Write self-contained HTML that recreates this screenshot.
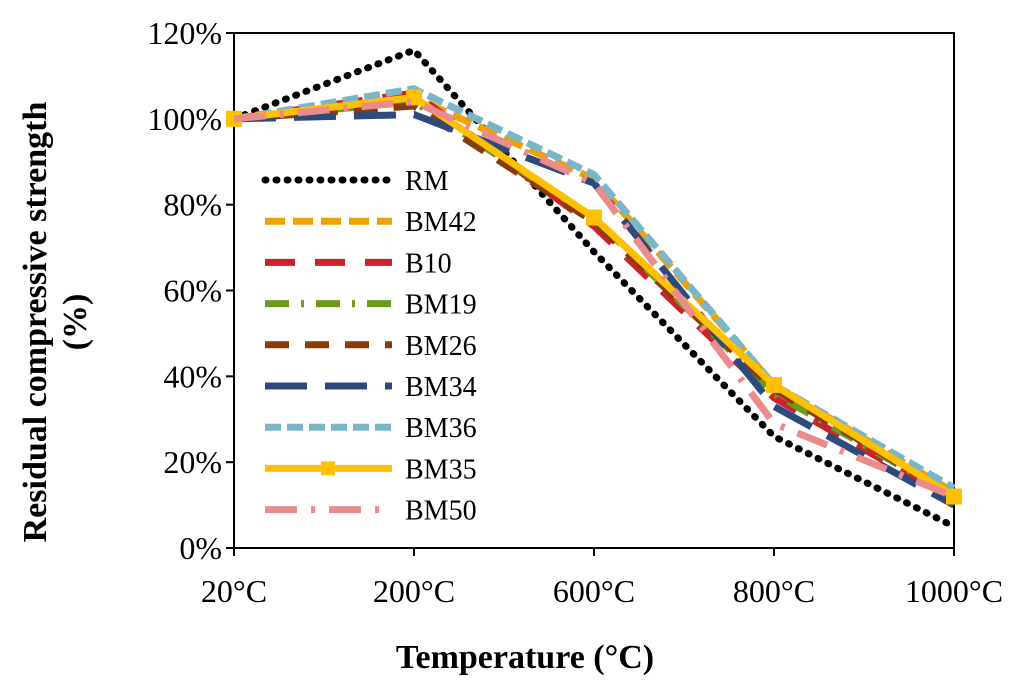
<!DOCTYPE html>
<html><head><meta charset="utf-8"><style>
html,body{margin:0;padding:0;background:#fff;}
svg{display:block;font-family:"Liberation Serif",serif;}
</style></head><body>
<svg id="chart" width="1024" height="686" viewBox="0 0 1024 686">
<rect x="234" y="33" width="720" height="515" fill="#fff" stroke="#000" stroke-width="2"/>
<g id="yticks"></g>
<g id="xticks"></g>
<g id="series"></g>
<g id="legend"></g>
<text x="46" y="322" transform="rotate(-90 46 322)" text-anchor="middle" font-size="34" font-weight="bold">Residual compressive strength</text>
<text x="86" y="322" transform="rotate(-90 86 322)" text-anchor="middle" font-size="34" font-weight="bold">(%)</text>
<text x="525" y="668" text-anchor="middle" font-size="34" font-weight="bold">Temperature (°C)</text>
</svg>
<script>
const categories = ["20°C","200°C","600°C","800°C","1000°C"];
const yTicks = [0,20,40,60,80,100,120];
const seriesNames = ["RM","BM42","B10","BM19","BM26","BM34","BM36","BM35","BM50"];
const RM   = [100,116,69,26,5];
const BM42 = [100,105,86,38,13];
const B10  = [100,106,75,35,11];
const BM19 = [100,104,77,36,12];
const BM26 = [100,103,76,37,12];
const BM34 = [100,101,85,33,10];
const BM36 = [100,107,87,38,14];
const BM35 = [100,105,77,38,12];
const BM50 = [100,104,85,29,12];

const seriesData = [RM,BM42,B10,BM19,BM26,BM34,BM36,BM35,BM50];
const colors = ["#000","#f0a000","#cc2229","#6b9a1e","#8a3b0c","#2e4a7d","#7ab6c8","#ffc000","#ea8c8c"];
const dashes = ["1,10","20,8","30,20","24,12,3,12","24,16","42,18","16,6","none","32,14,4,14"];
const X0=234, X1=954, Y0=548, Y1=33;
const x = i => X0 + i*(X1-X0)/(categories.length-1);
const y = v => Y0 - v*(Y0-Y1)/120;
const NS="http://www.w3.org/2000/svg";
function mk(tag, attrs, parent){const e=document.createElementNS(NS,tag);for(const k in attrs)e.setAttribute(k,attrs[k]);parent.appendChild(e);return e;}

const yg=document.getElementById('yticks');
yTicks.forEach(v=>{
  const l=mk('line',{x1:226,x2:234,y1:y(v),y2:y(v),stroke:'#000','stroke-width':2},yg);
  
  
  const t=mk('text',{x:222,y:y(v)+11,'text-anchor':'end','font-size':32},yg);
  t.textContent=v+'%';
  
  
});
const xg=document.getElementById('xticks');
categories.forEach((c,i)=>{
  const l=mk('line',{x1:x(i),x2:x(i),y1:548,y2:556,stroke:'#000','stroke-width':2},xg);
  
  
  const t=mk('text',{x:x(i),y:602,'text-anchor':'middle','font-size':32},xg);
  t.textContent=c;
  
  
});
const sg=document.getElementById('series');
const lg=document.getElementById('legend');
seriesData.forEach((d,s)=>{
  const pts=d.map((v,i)=>x(i)+','+y(v)).join(' ');
  const p=mk('polyline',{points:pts,fill:'none',stroke:colors[s],'stroke-width':s===0?7:7,'stroke-linecap':s===0?'round':'butt','stroke-dasharray':dashes[s]},sg);
  
  
  if(seriesNames[s]==='BM35'){
    d.forEach((v,i)=>{
      const m=mk('rect',{x:x(i)-8,y:y(v)-8,width:16,height:16,fill:colors[s]},sg);
      
      
    });
  }
  const ly=180+s*41.2;
  const ll=mk('line',{x1:265,x2:392,y1:ly,y2:ly,stroke:colors[s],'stroke-width':7,'stroke-linecap':s===0?'round':'butt','stroke-dasharray':dashes[s]},lg);
  
  
  if(seriesNames[s]==='BM35'){
    const m=mk('rect',{x:321,y:ly-7,width:14,height:14,fill:colors[s]},lg);
    
    
  }
  const lt=mk('text',{x:405,y:ly+10,'font-size':28},lg);
  lt.textContent=seriesNames[s];
  
  
});
</script>
</body></html>
